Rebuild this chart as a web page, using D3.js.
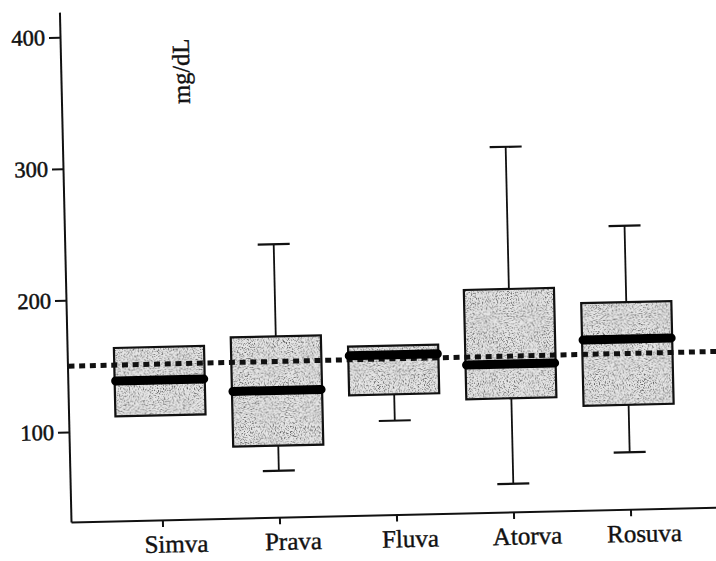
<!DOCTYPE html>
<html>
<head>
<meta charset="utf-8">
<script src="https://cdn.jsdelivr.net/npm/d3@7"></script>
<style>
  html, body { margin: 0; padding: 0; background: #fff; }
  svg { display: block; }
  text { font-family: "Liberation Serif", "Times New Roman", serif; fill: #111; }
</style>
</head>
<body>
<svg id="chart" width="716" height="561"></svg>
<script>
// ---- data ----
const categories  = ["Simva", "Prava", "Fluva", "Atorva", "Rosuva"];
const whiskerLow  = [null, 67, 103, 53, 75];
const q1          = [111, 86, 123, 118, 111];
const median      = [138, 128, 153, 144, 161];
const q3          = [163, 169, 160, 201, 189];
const whiskerHigh = [null, 239, null, 309, 247];
const yTicks      = [100, 200, 300, 400];
const referenceValue = 150;
const yLabel = "mg/dL";

const rows = categories.map((c, i) => ({
  cat: c, lo: whiskerLow[i], q1: q1[i], med: median[i], q3: q3[i], hi: whiskerHigh[i]
}));

// ---- layout ----
const svg = d3.select("#chart");
const axisX = 71, axisBottom = 522, axisTop = 12, axisRight = 723;

const defs = svg.append("defs");
const f = defs.append("filter").attr("id", "stipple")
  .attr("x", 0).attr("y", 0).attr("width", 1).attr("height", 1);
f.append("feTurbulence").attr("type", "fractalNoise").attr("baseFrequency", 0.8)
  .attr("numOctaves", 2).attr("seed", 7).attr("result", "noise");
f.append("feColorMatrix").attr("in", "noise").attr("type", "matrix")
  .attr("values", "0 0 0 0 0.12  0 0 0 0 0.12  0 0 0 0 0.12  4.5 0 0 0 -2.15")
  .attr("result", "dots");
f.append("feComposite").attr("in", "dots").attr("in2", "SourceGraphic")
  .attr("operator", "in").attr("result", "clipped");
const m = f.append("feMerge");
m.append("feMergeNode").attr("in", "SourceGraphic");
m.append("feMergeNode").attr("in", "clipped");

// the scanned figure is slightly tilted
const g = svg.append("g").attr("transform", `rotate(-1.3, ${axisX}, ${axisBottom})`);

const y = d3.scaleLinear().domain([31.6, 419]).range([axisBottom, axisTop]);
const x = d3.scaleBand().domain(categories).range([axisX, axisRight])
  .paddingInner(0.23).paddingOuter(0.40);
const bw = x.bandwidth();
const cx = d => x(d.cat) + bw / 2;

// y axis
const yAxis = g.append("g").attr("transform", `translate(${axisX},0)`)
  .call(d3.axisLeft(y).tickValues(yTicks).tickSize(11).tickSizeOuter(0).tickPadding(4));
yAxis.select(".domain").attr("stroke", "#111").attr("stroke-width", 2);
yAxis.selectAll(".tick line").attr("stroke", "#111").attr("stroke-width", 2);
yAxis.selectAll(".tick text").style("font-size", "22.5px")
  .style("font-family", "'Liberation Serif', serif").attr("fill", "#111")
  .attr("stroke", "#111").attr("stroke-width", 0.5);

// x axis
const xAxis = g.append("g").attr("transform", `translate(0,${axisBottom})`)
  .call(d3.axisBottom(x).tickSize(7).tickSizeOuter(0).tickPadding(8));
xAxis.select(".domain").attr("stroke", "#111").attr("stroke-width", 2);
xAxis.selectAll(".tick line").attr("stroke", "#111").attr("stroke-width", 2);
xAxis.selectAll(".tick text").style("font-size", "25px")
  .style("font-family", "'Liberation Serif', serif").attr("fill", "#111").attr("dx", 13)
  .attr("stroke", "#111").attr("stroke-width", 0.4);

// whiskers
const wg = g.append("g");
rows.filter(d => d.hi != null).forEach(d => {
  wg.append("line").attr("x1", cx(d)).attr("x2", cx(d)).attr("y1", y(d.q3)).attr("y2", y(d.hi))
    .attr("stroke", "#111").attr("stroke-width", 1.8);
  wg.append("line").attr("x1", cx(d) - 16).attr("x2", cx(d) + 16).attr("y1", y(d.hi)).attr("y2", y(d.hi))
    .attr("stroke", "#111").attr("stroke-width", 2.2);
});
rows.filter(d => d.lo != null).forEach(d => {
  wg.append("line").attr("x1", cx(d)).attr("x2", cx(d)).attr("y1", y(d.q1)).attr("y2", y(d.lo))
    .attr("stroke", "#111").attr("stroke-width", 1.8);
  wg.append("line").attr("x1", cx(d) - 16).attr("x2", cx(d) + 16).attr("y1", y(d.lo)).attr("y2", y(d.lo))
    .attr("stroke", "#111").attr("stroke-width", 2.2);
});

// boxes
g.append("g").selectAll("rect").data(rows).join("rect")
  .attr("x", d => x(d.cat)).attr("width", bw)
  .attr("y", d => y(d.q3)).attr("height", d => y(d.q1) - y(d.q3))
  .attr("fill", "#e6e6e6").attr("filter", "url(#stipple)");
g.append("g").selectAll("rect").data(rows).join("rect")
  .attr("x", d => x(d.cat)).attr("width", bw)
  .attr("y", d => y(d.q3)).attr("height", d => y(d.q1) - y(d.q3))
  .attr("fill", "none").attr("stroke", "#111").attr("stroke-width", 2.2);

// reference dotted line
g.append("line").attr("x1", axisX + 1).attr("x2", 740)
  .attr("y1", y(referenceValue)).attr("y2", y(referenceValue))
  .attr("stroke", "#111").attr("stroke-width", 5).attr("stroke-dasharray", "6,4.7");

// medians
g.append("g").selectAll("line").data(rows).join("line")
  .attr("x1", d => x(d.cat) + 1).attr("x2", d => x(d.cat) + bw - 1)
  .attr("y1", d => y(d.med)).attr("y2", d => y(d.med))
  .attr("stroke", "#000").attr("stroke-width", 9).attr("stroke-linecap", "round");

// unit label
g.append("text").attr("transform", "translate(191,74) rotate(-90)")
  .attr("text-anchor", "middle").attr("dominant-baseline", "central")
  .style("font-size", "24.5px").attr("stroke", "#111").attr("stroke-width", 0.4)
  .text(yLabel);
</script>
</body>
</html>
